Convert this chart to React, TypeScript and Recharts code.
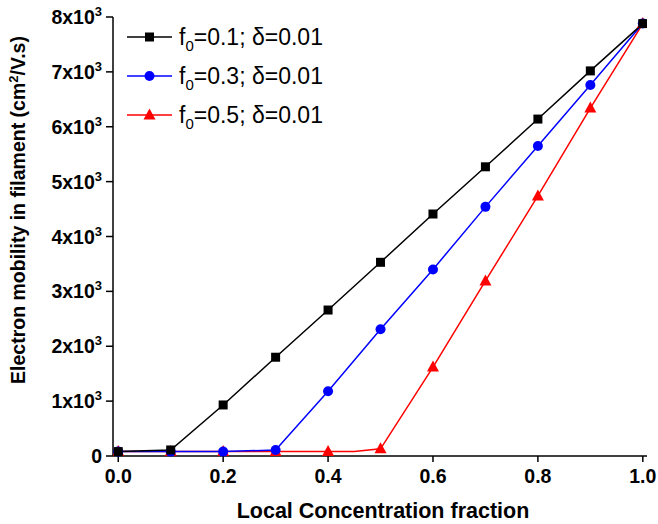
import React from 'react';
import { LineChart, Line, XAxis, YAxis } from 'recharts';

// values
const xValues = [0, 0.1, 0.2, 0.3, 0.4, 0.5, 0.6, 0.7, 0.8, 0.9, 1.0];
const blackValues = [80, 110, 930, 1800, 2660, 3530, 4410, 5270, 6140, 7018, 7880];
const blueValues = [80, 80, 80, 110, 1180, 2310, 3400, 4540, 5650, 6760, 7880];
// red curve has a kink at 0.45 (no marker there)
const redX = [0, 0.1, 0.2, 0.3, 0.4, 0.45, 0.5, 0.6, 0.7, 0.8, 0.9, 1.0];
const redValues = [80, 80, 80, 80, 80, 80, 130, 1620, 3190, 4740, 6340, 7880];
const redHiddenMarks = [0.45];

const xTicks = [0, 0.2, 0.4, 0.6, 0.8, 1.0];
const yTicks = [0, 1000, 2000, 3000, 4000, 5000, 6000, 7000, 8000];
const legendLabels = ['=0.1; δ=0.01', '=0.3; δ=0.01', '=0.5; δ=0.01'];

const blackData = xValues.map((x, i) => ({ x, y: blackValues[i] }));
const blueData = xValues.map((x, i) => ({ x, y: blueValues[i] }));
const redData = redX.map((x, i) => ({ x, y: redValues[i] }));

const FONT = '"Liberation Sans", Arial, Helvetica, sans-serif';

const SquareDot = (props: any) => {
  const { cx, cy } = props;
  if (cx == null || cy == null) return null;
  return <rect x={cx - 4.5} y={cy - 4.5} width={9} height={9} fill="#000" />;
};

const CircleDot = (props: any) => {
  const { cx, cy } = props;
  if (cx == null || cy == null) return null;
  return <circle cx={cx} cy={cy} r={5} fill="#0000ff" />;
};

const TriangleDot = (props: any) => {
  const { cx, cy, payload } = props;
  if (cx == null || cy == null) return null;
  if (payload && redHiddenMarks.includes(payload.x)) return <g />;
  return <polygon points={`${cx},${cy - 6.5} ${cx - 6},${cy + 4.5} ${cx + 6},${cy + 4.5}`} fill="#ff0000" />;
};

const YTick = (props: any) => {
  const { x, y, payload } = props;
  const v = payload.value;
  if (v === 0) {
    return (
      <text x={x} y={y + 7} textAnchor="end" fontFamily={FONT} fontSize={19.5} fontWeight="bold" fill="#000">
        0
      </text>
    );
  }
  return (
    <text x={x} y={y + 7} textAnchor="end" fontFamily={FONT} fontSize={19.5} fontWeight="bold" fill="#000">
      {`${v / 1000}x10`}
      <tspan dy={-8} fontSize={13}>3</tspan>
    </text>
  );
};

const XTick = (props: any) => {
  const { x, y, payload } = props;
  return (
    <text x={x} y={y + 17} textAnchor="middle" fontFamily={FONT} fontSize={19.5} fontWeight="bold" fill="#000">
      {payload.value.toFixed(1)}
    </text>
  );
};

const LegendOverlay = () => {
  const rows = [
    { color: '#000', y: 37, mark: 'square' },
    { color: '#0000ff', y: 76, mark: 'circle' },
    { color: '#ff0000', y: 115, mark: 'triangle' },
  ];
  return (
    <svg width={658} height={524} style={{ position: 'absolute', left: 0, top: 0, pointerEvents: 'none' }}>
      {rows.map((r, i) => (
        <g key={i}>
          <line x1={127} x2={172} y1={r.y} y2={r.y} stroke={r.color} strokeWidth={1.5} />
          {r.mark === 'square' && <rect x={145} y={r.y - 4.5} width={9} height={9} fill={r.color} />}
          {r.mark === 'circle' && <circle cx={149.5} cy={r.y} r={5} fill={r.color} />}
          {r.mark === 'triangle' && (
            <polygon points={`149.5,${r.y - 6.5} 143.5,${r.y + 4.5} 155.5,${r.y + 4.5}`} fill={r.color} />
          )}
          <text x={179} y={r.y + 8} fontFamily={FONT} fontSize={23} fill="#000">
            f
            <tspan dy={6} fontSize={15}>0</tspan>
            <tspan dy={-6}>{legendLabels[i]}</tspan>
          </text>
        </g>
      ))}
      <text
        transform="translate(25,210) rotate(-90)"
        textAnchor="middle"
        fontFamily={FONT}
        fontSize={19.5}
        fontWeight="bold"
        fill="#000"
      >
        Electron mobility in filament (cm
        <tspan dy={-7} fontSize={13}>2</tspan>
        <tspan dy={7}>/V.s)</tspan>
      </text>
      <text x={383} y={518} textAnchor="middle" fontFamily={FONT} fontSize={21.5} fontWeight="bold" fill="#000">
        Local Concentration fraction
      </text>
    </svg>
  );
};

const App: React.FC = () => {
  return (
    <div style={{ position: 'absolute', left: 0, top: 0, width: 658, height: 524, background: '#fff' }}>
      <LineChart width={658} height={524} margin={{ top: 17, right: 11, bottom: 0, left: 0 }}>
        <XAxis
          dataKey="x"
          type="number"
          domain={[-0.01, 1.008]}
          allowDataOverflow
          ticks={xTicks}
          tick={<XTick />}
          tickSize={6}
          tickMargin={4}
          height={68}
          axisLine={{ stroke: '#000', strokeWidth: 1.5 }}
          tickLine={{ stroke: '#000', strokeWidth: 1.5 }}
        />
        <YAxis
          dataKey="y"
          type="number"
          domain={[0, 8000]}
          ticks={yTicks}
          tick={<YTick />}
          tickSize={7}
          tickMargin={4}
          width={113}
          axisLine={{ stroke: '#000', strokeWidth: 1.5 }}
          tickLine={{ stroke: '#000', strokeWidth: 1.5 }}
        />
        <Line data={redData} dataKey="y" stroke="#ff0000" strokeWidth={1.5} dot={<TriangleDot />} isAnimationActive={false} />
        <Line data={blueData} dataKey="y" stroke="#0000ff" strokeWidth={1.5} dot={<CircleDot />} isAnimationActive={false} />
        <Line data={blackData} dataKey="y" stroke="#000" strokeWidth={1.5} dot={<SquareDot />} isAnimationActive={false} />
      </LineChart>
      <LegendOverlay />
    </div>
  );
};

export default App;
